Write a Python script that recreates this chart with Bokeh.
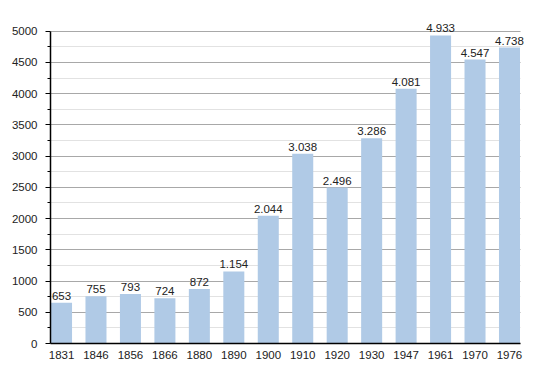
from bokeh.plotting import figure
from bokeh.models import ColumnDataSource, Range1d, FixedTicker, LabelSet, LinearAxis
from bokeh.core.properties import value
from bokeh.embed import file_html
from bokeh.resources import INLINE

years = ["1831", "1846", "1856", "1866", "1880", "1890", "1900", "1910", "1920", "1930", "1947", "1961", "1970", "1976"]
population = [653, 755, 793, 724, 872, 1154, 2044, 3038, 2496, 3286, 4081, 4933, 4547, 4738]
labels = ["653", "755", "793", "724", "872", "1.154", "2.044", "3.038", "2.496", "3.286", "4.081", "4.933", "4.547", "4.738"]
y_ticks = [0, 500, 1000, 1500, 2000, 2500, 3000, 3500, 4000, 4500, 5000]
y_minor = [250, 750, 1250, 1750, 2250, 2750, 3250, 3750, 4250, 4750]

idx = list(range(len(years)))
src = ColumnDataSource(dict(x=idx, y=population, lab=labels))

x_lo, x_hi = -0.32, len(years) - 1 + 0.32

p = figure(width=550, height=373, output_backend="svg", toolbar_location=None,
           x_range=Range1d(x_lo, 13.755), y_range=Range1d(0, 5300),
           min_border_left=50, min_border_right=15, min_border_top=12, min_border_bottom=30)
p.outline_line_color = None
p.background_fill_color = "white"
p.border_fill_color = "white"
p.xgrid.visible = False
p.ygrid.visible = False

p.vbar(x="x", top="y", width=0.61, source=src, fill_color="#b0cae6", line_color=None)

lbl = LabelSet(x="x", y="y", text="lab", source=src, text_align="center", text_baseline="bottom",
               y_offset=3, text_font=value("Liberation Sans"), text_font_size="11.5px", text_color="#222222")
p.add_layout(lbl)

# x axis
p.xaxis.ticker = FixedTicker(ticks=idx)
p.xaxis.bounds = (x_lo, x_hi)
p.xaxis.major_label_overrides = {i: y for i, y in enumerate(years)}
p.xaxis.major_tick_line_color = None
p.xaxis.minor_tick_line_color = None
p.xaxis.axis_line_color = "black"
p.xaxis.axis_line_width = 1.5
p.xaxis.major_label_standoff = 1
p.xaxis.major_label_text_font = "Liberation Sans"
p.xaxis.major_label_text_font_size = "11.5px"
p.xaxis.major_label_text_color = "#222222"

# y axis
main_y = p.yaxis[0]
main_y.ticker = FixedTicker(ticks=y_ticks, minor_ticks=y_minor)
main_y.bounds = (0, 5000)
main_y.axis_line_color = "black"
main_y.axis_line_width = 1.5
main_y.major_tick_line_color = "black"
main_y.major_tick_in = 0
main_y.major_tick_out = 5
main_y.minor_tick_line_color = "black"
main_y.minor_tick_in = 0
main_y.minor_tick_out = 3
main_y.major_label_standoff = 8
main_y.major_label_text_font = "Liberation Sans"
main_y.major_label_text_font_size = "11.5px"
main_y.major_label_text_color = "#222222"

# horizontal grid lines drawn as long inward ticks (so they stop at the last bar)
grid_axis = LinearAxis(ticker=FixedTicker(ticks=y_ticks, minor_ticks=y_minor),
                       bounds=(0, 5000), axis_line_color=None,
                       major_tick_line_color="#a8a8a8", major_tick_in=470, major_tick_out=0,
                       minor_tick_line_color="#e2e2e2", minor_tick_in=470, minor_tick_out=0,
                       major_label_text_font_size="0px", major_label_standoff=0,
                       major_label_text_color=None, level="underlay")
p.left = [grid_axis, main_y]

open("out.html", "w").write(file_html(p, INLINE))
